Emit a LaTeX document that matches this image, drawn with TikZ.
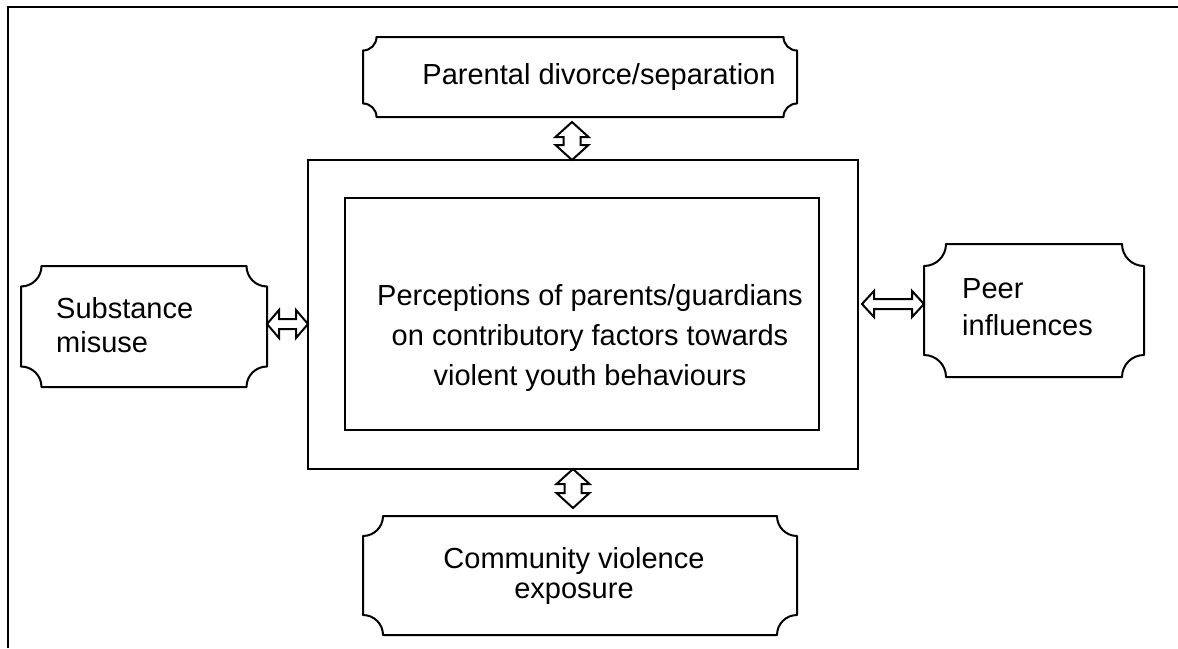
\documentclass[tikz,border=0pt]{standalone}
\usepackage{fontspec}
\setmainfont{Liberation Sans}
\usetikzlibrary{calc}

% plaque outline (concave quarter-circle corners) around a named node
\newcommand\plaque[2]{%
  \draw[plaqueline] let \p1=(#1.north west), \p2=(#1.south east) in
    (\x1+#2,\y1) -- (\x2-#2,\y1)
    arc[start angle=180,end angle=270,radius=#2] -- (\x2,\y2+#2)
    arc[start angle=90,end angle=180,radius=#2] -- (\x1+#2,\y2)
    arc[start angle=0,end angle=90,radius=#2] -- (\x1,\y1-#2)
    arc[start angle=270,end angle=360,radius=#2] -- cycle;}

% vertical block arrow with two heads: #1 upper tip, #2 lower tip,
% #3 half shaft width, #4 half head width, #5 head length
\newcommand\vbiarrow[5]{%
  \draw[arrowline] let \p1=(#1), \p2=(#2) in
    (\x1,\y1) -- (\x1+#4,\y1-#5) -- (\x1+#3,\y1-#5) -- (\x1+#3,\y2+#5)
    -- (\x1+#4,\y2+#5) -- (\x1,\y2) -- (\x1-#4,\y2+#5) -- (\x1-#3,\y2+#5)
    -- (\x1-#3,\y1-#5) -- (\x1-#4,\y1-#5) -- cycle;}

% horizontal block arrow with two heads: #1 left tip, #2 right tip
\newcommand\hbiarrow[5]{%
  \draw[arrowline] let \p1=(#1), \p2=(#2) in
    (\x1,\y1) -- (\x1+#5,\y1+#4) -- (\x1+#5,\y1+#3) -- (\x2-#5,\y1+#3)
    -- (\x2-#5,\y1+#4) -- (\x2,\y1) -- (\x2-#5,\y1-#4) -- (\x2-#5,\y1-#3)
    -- (\x1+#5,\y1-#3) -- (\x1+#5,\y1-#4) -- cycle;}

\tikzset{
  area/.style={inner sep=0pt, outer sep=0pt},
  plaqueline/.style={line width=2pt, line join=round},
  arrowline/.style={line width=2pt, line join=miter, fill=white},
  frameline/.style={line width=2.6pt},
  boxline/.style={draw, line width=2pt},
  label/.style={inner sep=0pt, font=\fontsize{29pt}{#1}\selectfont},
  label/.default=36pt,
}

\begin{document}
\begin{tikzpicture}[x=1pt, y=-1pt]
  \useasboundingbox (0,0) rectangle (1178,648);

  % page frame (left and top edges only)
  \coordinate (fb) at (8,648);
  \coordinate (fc) at (8,7);
  \coordinate (fe) at (1178,7);
  \draw[frameline] (fb) -- (fc) -- (fe);

  % outer and inner central rectangles
  \node[area, boxline, minimum width=550pt, minimum height=309pt] (outer) at (583,314.5) {};
  \node[area, boxline, minimum width=474pt, minimum height=232pt] (inner) at (582,314) {};
  \node[label=40pt, align=center] (innertext) at (590,338)
    {Perceptions of parents/guardians\\on contributory factors towards\\violent youth behaviours};

  % surrounding factor boxes
  \node[area, minimum width=434pt, minimum height=80pt] (top) at (580,77) {};
  \plaque{top}{13.5pt}
  \node[label] (toptext) at (599,77) {Parental divorce/separation};

  \node[area, minimum width=434pt, minimum height=119pt] (bottom) at (580,575.5) {};
  \plaque{bottom}{20pt}
  \node[label=30pt, align=center] (bottomtext) at (574,575.5) {Community violence\\exposure};

  \node[area, minimum width=246pt, minimum height=121pt] (left) at (144,326.5) {};
  \plaque{left}{20.5pt}
  \node[label=34pt, align=left, anchor=west] (lefttext) at (56,325.5) {Substance\\misuse};

  \node[area, minimum width=220pt, minimum height=133pt] (right) at (1034,310.5) {};
  \plaque{right}{22pt}
  \node[label=37pt, align=left, anchor=west] (righttext) at (962,307) {Peer\\influences};

  % two-headed block arrows between the factors and the centre
  \coordinate (ta) at (572,122);
  \coordinate (tb) at (ta |- outer.north);
  \vbiarrow{ta}{tb}{8.5pt}{16.5pt}{15pt}

  \coordinate (ba) at (573,469);
  \coordinate (bb) at (573,508);
  \vbiarrow{ba}{bb}{8.5pt}{16.5pt}{15pt}

  \coordinate (la) at (left.east |- 0,324);
  \coordinate (lb) at (outer.west |- la);
  \hbiarrow{la}{lb}{5pt}{14pt}{12pt}

  \coordinate (ra) at (862,304);
  \coordinate (rb) at (right.west |- ra);
  \hbiarrow{ra}{rb}{5pt}{13pt}{12pt}
\end{tikzpicture}
\end{document}
